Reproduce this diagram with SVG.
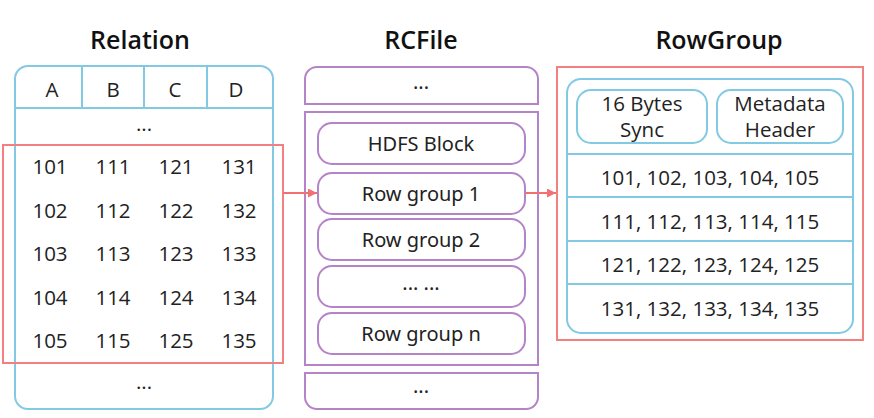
<svg xmlns="http://www.w3.org/2000/svg" width="874" height="418" viewBox="0 0 874 418">
  <style>
    .title { font-family: "Open Sans", "Noto Sans", sans-serif; font-size: 25px; font-weight: 600; fill: #111; text-anchor: middle; }
    .cell { font-family: "Open Sans", "Noto Sans", sans-serif; font-size: 20.5px; fill: #222; text-anchor: middle; }
    .lbl { font-family: "Noto Sans", "Open Sans", sans-serif; font-size: 20px; fill: #222; text-anchor: middle; }
    .blue { fill: none; stroke: #82c9e4; stroke-width: 2; }
    .purple { fill: none; stroke: #b483c8; stroke-width: 2; }
    .red { fill: none; stroke: #f47f80; stroke-width: 2; }
    .link { fill: none; stroke: #f26f72; stroke-width: 2; }
  </style>
  <defs>
    <marker id="arrow" viewBox="0 0 10 10" refX="10" refY="5" markerWidth="4.5" markerHeight="4.5" orient="auto">
      <path d="M0,0 L10,5 L0,10 z" fill="#f26f72"/>
    </marker>
  </defs>
  <rect width="874" height="418" fill="#ffffff"/>

  <!-- Titles -->
  <text class="title" x="140" y="49">Relation</text>
  <text class="title" x="421" y="49">RCFile</text>
  <text class="title" x="719" y="49">RowGroup</text>

  <!-- Relation table -->
  <g id="relation">
    <rect class="blue" x="15" y="66" width="258" height="343" rx="13"/>
    <line class="blue" x1="15" y1="108" x2="273" y2="108"/>
    <line class="blue" x1="82" y1="66" x2="82" y2="108"/>
    <line class="blue" x1="144" y1="66" x2="144" y2="108"/>
    <line class="blue" x1="207" y1="66" x2="207" y2="108"/>
    <text class="cell" x="52" y="97">A</text>
    <text class="cell" x="113" y="97">B</text>
    <text class="cell" x="175" y="97">C</text>
    <text class="cell" x="236" y="97">D</text>
    <text class="cell" x="144" y="131">...</text>
    <text class="cell" x="144" y="389">...</text>
  </g>

  <!-- Selected rows of the relation -->
  <g id="relation-rows">
    <rect class="red" x="3" y="145" width="280" height="218"/>
    <g>
      <text class="cell" x="50" y="174">101</text>
      <text class="cell" x="113" y="174">111</text>
      <text class="cell" x="176" y="174">121</text>
      <text class="cell" x="239" y="174">131</text>
      <text class="cell" x="50" y="218">102</text>
      <text class="cell" x="113" y="218">112</text>
      <text class="cell" x="176" y="218">122</text>
      <text class="cell" x="239" y="218">132</text>
      <text class="cell" x="50" y="261">103</text>
      <text class="cell" x="113" y="261">113</text>
      <text class="cell" x="176" y="261">123</text>
      <text class="cell" x="239" y="261">133</text>
      <text class="cell" x="50" y="305">104</text>
      <text class="cell" x="113" y="305">114</text>
      <text class="cell" x="176" y="305">124</text>
      <text class="cell" x="239" y="305">134</text>
      <text class="cell" x="50" y="348">105</text>
      <text class="cell" x="113" y="348">115</text>
      <text class="cell" x="176" y="348">125</text>
      <text class="cell" x="239" y="348">135</text>
    </g>
  </g>

  <!-- RCFile -->
  <g id="rcfile-head">
    <path class="purple" d="M305,104 V79 A12,12 0 0 1 317,67 H526 A12,12 0 0 1 538,79 V104 Z"/>
    <text class="lbl" x="421" y="89">...</text>
  </g>
  <g id="rcfile-block">
    <rect class="purple" x="305" y="112" width="233" height="253"/>
  </g>
  <g id="hdfs-block">
    <rect class="purple" x="318" y="123" width="207" height="41" rx="14"/>
    <text class="lbl" x="421" y="151">HDFS Block</text>
  </g>
  <g id="row-group-1">
    <rect class="purple" x="318" y="173" width="207" height="41" rx="14"/>
    <text class="lbl" x="421" y="201">Row group 1</text>
  </g>
  <g id="row-group-2">
    <rect class="purple" x="318" y="219" width="207" height="41" rx="14"/>
    <text class="lbl" x="421" y="247">Row group 2</text>
  </g>
  <g id="row-group-more">
    <rect class="purple" x="318" y="266" width="207" height="41" rx="14"/>
    <text class="lbl" x="421" y="290">... ...</text>
  </g>
  <g id="row-group-n">
    <rect class="purple" x="318" y="313" width="207" height="41" rx="14"/>
    <text class="lbl" x="421" y="341">Row group n</text>
  </g>
  <g id="rcfile-tail">
    <path class="purple" d="M305,373 H538 V397 A12,12 0 0 1 526,409 H317 A12,12 0 0 1 305,397 Z"/>
    <text class="lbl" x="421" y="393">...</text>
  </g>

  <!-- RowGroup -->
  <g id="rowgroup">
    <rect class="red" x="557" y="67" width="306" height="273"/>
    <rect class="blue" x="567" y="79" width="286" height="254" rx="14"/>
    <line class="blue" x1="567" y1="154" x2="853" y2="154"/>
    <line class="blue" x1="567" y1="197" x2="853" y2="197"/>
    <line class="blue" x1="567" y1="241" x2="853" y2="241"/>
    <line class="blue" x1="567" y1="284" x2="853" y2="284"/>
    <text class="cell" x="710" y="185">101, 102, 103, 104, 105</text>
    <text class="cell" x="710" y="229">111, 112, 113, 114, 115</text>
    <text class="cell" x="710" y="272">121, 122, 123, 124, 125</text>
    <text class="cell" x="710" y="316">131, 132, 133, 134, 135</text>
  </g>
  <g id="sync">
    <rect class="blue" x="577" y="90" width="130" height="53" rx="14"/>
    <text class="cell" x="642" y="111"><tspan x="642">16 Bytes</tspan><tspan x="642" dy="26">Sync</tspan></text>
  </g>
  <g id="metadata-header">
    <rect class="blue" x="717" y="90" width="126" height="53" rx="14"/>
    <text class="cell" x="780" y="111"><tspan x="780">Metadata</tspan><tspan x="780" dy="26">Header</tspan></text>
  </g>

  <!-- Connectors -->
  <g id="connectors">
    <line class="link" x1="283" y1="193" x2="317" y2="193" marker-end="url(#arrow)"/>
    <line class="link" x1="525" y1="193" x2="556" y2="193" marker-end="url(#arrow)"/>
  </g>
</svg>
